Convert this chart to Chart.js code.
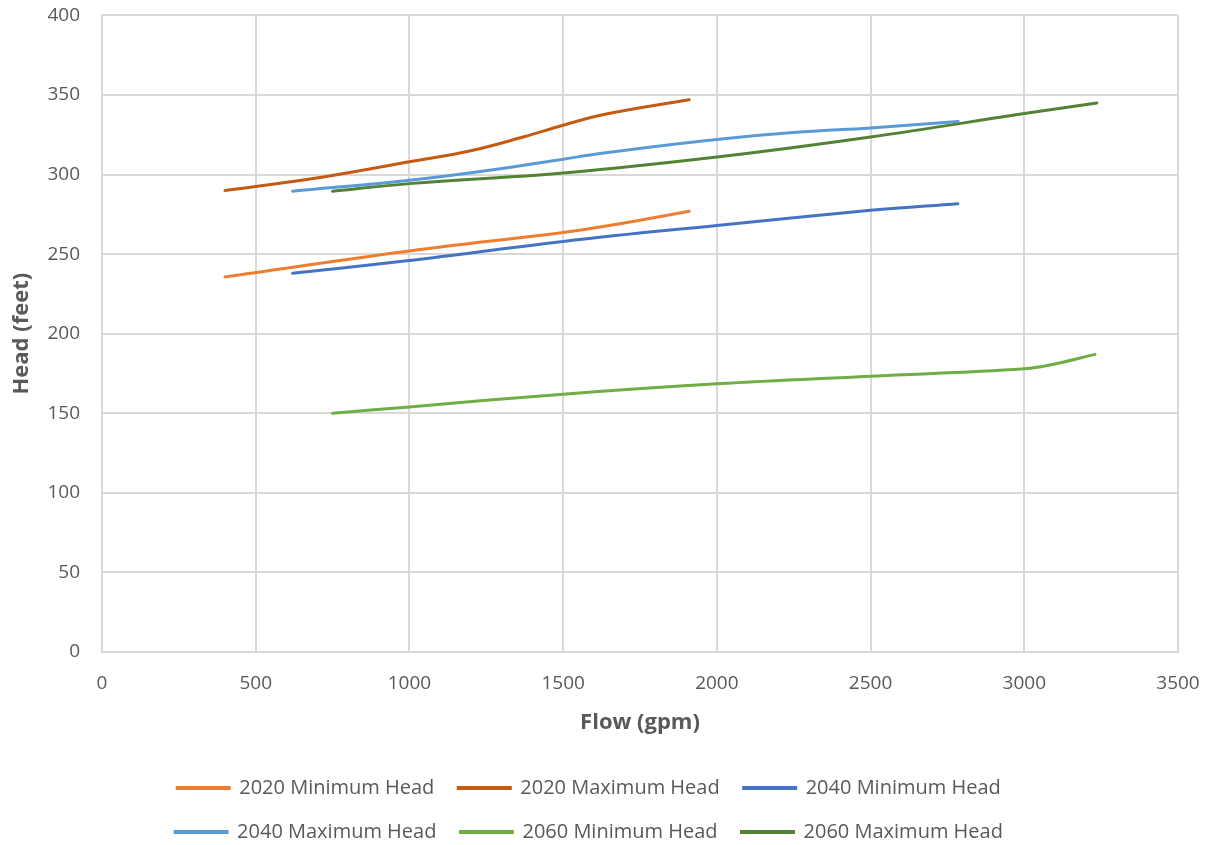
<!DOCTYPE html>
<html>
<head>
<meta charset="utf-8">
<title>Head vs Flow</title>
<script src="https://cdn.jsdelivr.net/npm/chart.js@4/dist/chart.umd.min.js"></script>
<style>
  html, body { margin: 0; padding: 0; background: #fff; }
  #wrap { width: 1215px; height: 845px; }
</style>
</head>
<body>
<div id="wrap"><canvas id="myChart" width="1215" height="845"></canvas></div>
<script>
// nomi delle serie
var seriesNames = ["2020 Minimum Head", "2020 Maximum Head", "2040 Minimum Head",
                   "2040 Maximum Head", "2060 Minimum Head", "2060 Maximum Head"];
var seriesColors = ["#ED7D31", "#C55A11", "#4472C4", "#5B9BD5", "#70AD47", "#548235"];

// flow (gpm) e head (feet)
var flow2020Min = [400, 1000, 1500, 1640, 1750, 1910];
var head2020Min = [235.7, 252, 263.6, 267.7, 271.3, 277];

var flow2020Max = [400, 720, 1000, 1200, 1370, 1500, 1640, 1910];
var head2020Max = [290, 298.5, 308, 315, 323.6, 331, 338, 347];

var flow2040Min = [620, 1000, 1500, 2000, 2500, 2784];
var head2040Min = [238, 246, 258, 268, 277.5, 281.7];

var flow2040Max = [620, 1000, 1260, 1500, 1620, 2000, 2270, 2500, 2785];
var head2040Max = [289.5, 296.4, 302.7, 309.6, 313.2, 322, 326.7, 329.3, 333.4];

var flow2060Min = [750, 1000, 1500, 2000, 2500, 3000, 3100, 3230];
var head2060Min = [150, 154, 162, 168.5, 173.3, 178, 181, 187];

var flow2060Max = [750, 1000, 1500, 2000, 2500, 3000, 3236];
var head2060Max = [289.5, 294.3, 301, 311, 323.6, 338.3, 345];

var flows = [flow2020Min, flow2020Max, flow2040Min, flow2040Max, flow2060Min, flow2060Max];
var heads = [head2020Min, head2020Max, head2040Min, head2040Max, head2060Min, head2060Max];

var FONT = "'Open Sans', 'Liberation Sans', sans-serif";
var GRID = "#d9d9d9";
var TEXT = "#595959";

function buildPoints(xs, ys) {
  var pts = [];
  for (var i = 0; i < xs.length; i++) {
    pts.push({x: xs[i], y: ys[i]});
  }
  return pts;
}

function buildDatasets() {
  var sets = [];
  for (var i = 0; i < seriesNames.length; i++) {
    sets.push({
      label: seriesNames[i],
      data: buildPoints(flows[i], heads[i]),
      borderColor: seriesColors[i],
      backgroundColor: seriesColors[i],
      borderWidth: 3,
      pointRadius: 0,
      tension: 0.4,
      borderCapStyle: "round",
      fill: false
    });
  }
  return sets;
}

// etichette senza separatore delle migliaia
function plainTick(value) {
  return String(value);
}

var ctx = document.getElementById("myChart").getContext("2d");
var myChart = new Chart(ctx, {
  type: "line",
  data: { datasets: buildDatasets() },
  options: {
    responsive: false,
    animation: false,
    layout: { padding: { top: 0, right: 37, left: 0, bottom: 0 } },
    plugins: {
      tooltip: { enabled: false },
      legend: {
        position: "bottom",
        maxHeight: 91,
        labels: {
          boxWidth: 52,
          boxHeight: 1,
          padding: 24,
          color: TEXT,
          font: { family: FONT, size: 20 }
        }
      }
    },
    scales: {
      x: {
        type: "linear",
        min: 0,
        max: 3500,
        ticks: { stepSize: 500, color: TEXT, font: { family: FONT, size: 19 }, padding: 4, callback: plainTick },
        // tacche trasparenti: servono solo a distanziare le etichette
        grid: { color: GRID, lineWidth: 2, tickColor: "rgba(0,0,0,0)", tickLength: 16 },
        border: { color: GRID, width: 2 },
        title: { display: true, text: "Flow (gpm)", color: TEXT,
                 font: { family: FONT, size: 22, weight: "bold" }, padding: { top: 4, bottom: 18 } },
        afterFit: function(scale) { scale.height = 102; }
      },
      y: {
        min: 0,
        max: 400,
        ticks: { stepSize: 50, color: TEXT, font: { family: FONT, size: 19 }, padding: 4, callback: plainTick },
        grid: { color: GRID, lineWidth: 2, tickColor: "rgba(0,0,0,0)", tickLength: 18 },
        border: { color: GRID, width: 2 },
        title: { display: true, text: "Head (feet)", color: TEXT,
                 font: { family: FONT, size: 22, weight: "bold" }, padding: { top: 9, bottom: 4 } },
        afterFit: function(scale) { scale.width = 102; }
      }
    }
  }
});

// legenda su due righe da tre voci come nell'originale
var legend = myChart.legend;
var fitRows = legend._fitRows;
legend._fitRows = function(titleHeight, fontSize, boxWidth, itemHeight) {
  var fullWidth = this.maxWidth;
  this.maxWidth = 900;
  var h = fitRows.call(this, titleHeight, fontSize, boxWidth, itemHeight);
  this.maxWidth = fullWidth;
  return h;
};
myChart.update();
</script>
</body>
</html>
